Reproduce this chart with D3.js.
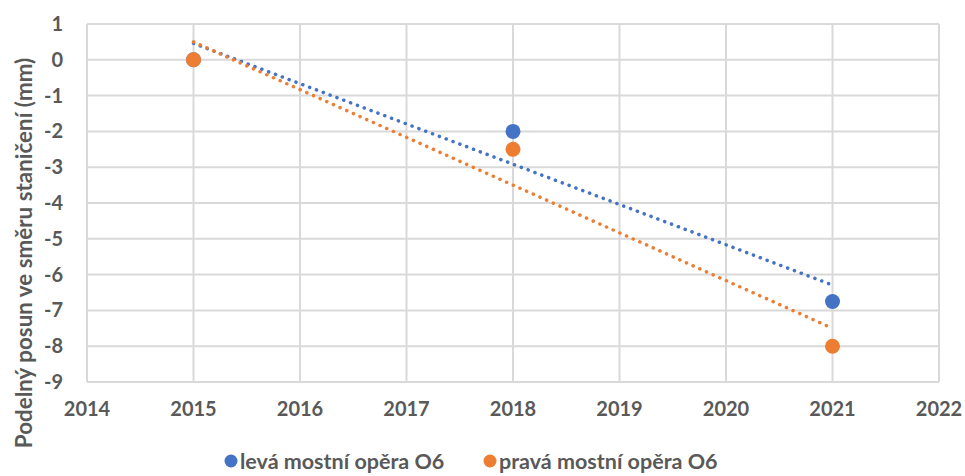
<!DOCTYPE html>
<html>
<head>
<meta charset="utf-8">
<script src="https://cdn.jsdelivr.net/npm/d3@7"></script>
<style>
  body { margin: 0; background: #fff; }
  svg text { font-family: Lato, "Open Sans", sans-serif; font-weight: bold; fill: #595959; }
</style>
</head>
<body>
<svg id="chart" width="965" height="476"></svg>
<script>
var YEARS = [2015, 2018, 2021];
var LEVA = [0, -2, -6.75];
var PRAVA = [0, -2.5, -8];
var SERIES_NAMES = ['levá mostní opěra O6', 'pravá mostní opěra O6'];
var COLORS = ['#4472C4', '#ED7D31'];
var X_TICKS = [2014, 2015, 2016, 2017, 2018, 2019, 2020, 2021, 2022];
var Y_TICKS = [1, 0, -1, -2, -3, -4, -5, -6, -7, -8, -9];
var Y_TITLE = 'Podelný posun ve směru staničení (mm)';

var svg = d3.select('#chart');
var margin = {left: 87, top: 24, right: 26, bottom: 94};
var width = 965 - margin.left - margin.right;
var height = 476 - margin.top - margin.bottom;

var x = d3.scaleLinear().domain([2014, 2022]).range([0, width]);
var y = d3.scaleLinear().domain([-9, 1]).range([height, 0]);

var g = svg.append('g').attr('transform', 'translate(' + margin.left + ',' + margin.top + ')');

// grid
g.selectAll('.hgrid').data(Y_TICKS).enter().append('line')
    .attr('x1', 0).attr('x2', width)
    .attr('y1', function(d){ return y(d); }).attr('y2', function(d){ return y(d); })
    .attr('stroke', '#d9d9d9').attr('stroke-width', 2);
g.selectAll('.vgrid').data(X_TICKS).enter().append('line')
    .attr('y1', 0).attr('y2', height)
    .attr('x1', function(d){ return x(d); }).attr('x2', function(d){ return x(d); })
    .attr('stroke', '#d9d9d9').attr('stroke-width', 2);

// tick labels
g.selectAll('.ylab').data(Y_TICKS).enter().append('text')
    .attr('x', -24).attr('y', function(d){ return y(d); })
    .attr('dy', '0.35em').attr('text-anchor', 'end')
    .style('font-size', '20px')
    .text(function(d){ return d; });
g.selectAll('.xlab').data(X_TICKS).enter().append('text')
    .attr('x', function(d){ return x(d); }).attr('y', height + 34)
    .attr('text-anchor', 'middle')
    .style('font-size', '20px')
    .text(function(d){ return d; });

// y title
svg.append('text')
    .attr('transform', 'translate(32,' + 253 + ') rotate(-90)')
    .attr('text-anchor', 'middle')
    .style('font-size', '22.4px')
    .text(Y_TITLE);

// trendlines (least squares through the points)
function trend(xs, ys){
    var mx = d3.mean(xs), my = d3.mean(ys);
    var sxy = d3.sum(xs, function(v, i){ return (v - mx) * (ys[i] - my); });
    var sxx = d3.sum(xs, function(v){ return (v - mx) * (v - mx); });
    var b = sxy / sxx, a = my - b * mx;
    var x0 = d3.min(xs), x1 = d3.max(xs);
    return [[x0, a + b * x0], [x1, a + b * x1]];
}

var data = [LEVA, PRAVA];
var line = d3.line().x(function(d){ return x(d[0]); }).y(function(d){ return y(d[1]); });

data.forEach(function(vals, i){
    g.append('path')
        .datum(trend(YEARS, vals))
        .attr('d', line)
        .attr('fill', 'none')
        .attr('stroke', COLORS[i])
        .attr('stroke-width', 3.5)
        .attr('stroke-linecap', 'round')
        .attr('stroke-dasharray', '0.1 7.2');
});

data.forEach(function(vals, i){
    g.selectAll('.pt' + i).data(vals).enter().append('circle')
        .attr('cx', function(d, j){ return x(YEARS[j]); })
        .attr('cy', function(d){ return y(d); })
        .attr('r', 7.5)
        .attr('fill', COLORS[i]);
});

// legend
var legendX = [231, 490];
SERIES_NAMES.forEach(function(name, i){
    var lg = svg.append('g').attr('transform', 'translate(' + legendX[i] + ',461)');
    lg.append('circle').attr('r', 6.5).attr('fill', COLORS[i]);
    lg.append('text').attr('x', 9).attr('dy', '0.35em')
        .style('font-size', '21.5px').text(name);
});
</script>
</body>
</html>
